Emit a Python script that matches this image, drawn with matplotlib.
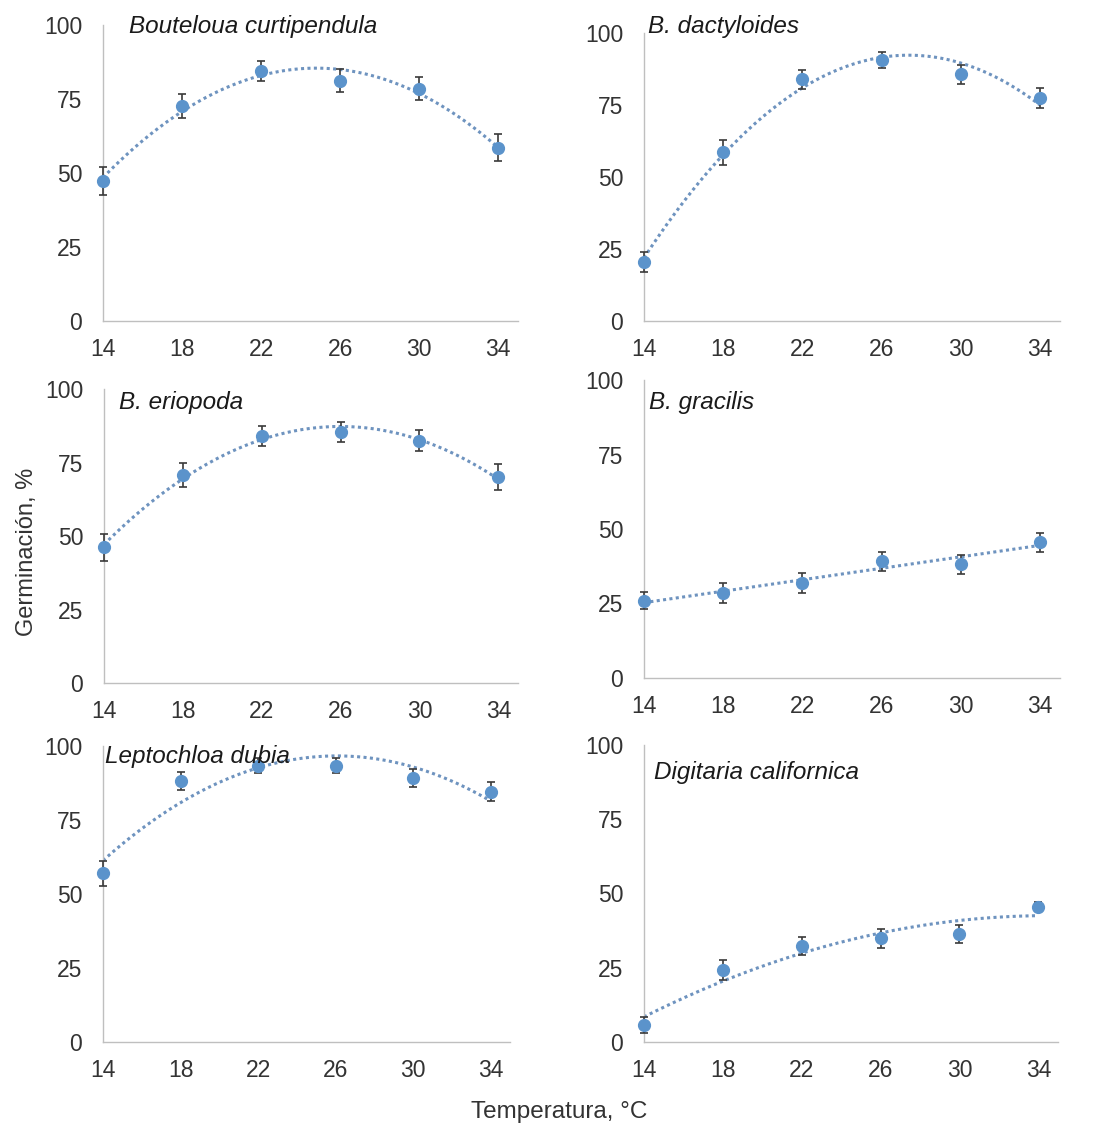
import numpy as np
import matplotlib
matplotlib.use("Agg")
import matplotlib.pyplot as plt

plt.rcParams['font.family'] = ['Liberation Sans', 'DejaVu Sans']

temps = [14, 18, 22, 26, 30, 34]
xticks = [14, 18, 22, 26, 30, 34]
yticks = [0, 25, 50, 75, 100]

species = ["Bouteloua curtipendula", "B. dactyloides", "B. eriopoda",
           "B. gracilis", "Leptochloa dubia", "Digitaria californica"]

curtipendula = [47.3, 72.6, 84.5, 81.1, 78.5, 58.6]
curtipendula_err = [4.7, 4.0, 3.5, 3.9, 3.8, 4.6]
dactyloides = [20.6, 58.6, 84.0, 90.6, 85.6, 77.3]
dactyloides_err = [3.5, 4.3, 3.3, 2.8, 3.2, 3.5]
eriopoda = [46.1, 70.8, 84.1, 85.3, 82.4, 70.0]
eriopoda_err = [4.6, 4.1, 3.4, 3.4, 3.5, 4.4]
gracilis = [25.9, 28.6, 31.9, 39.2, 38.2, 45.6]
gracilis_err = [2.9, 3.3, 3.3, 3.2, 3.2, 3.2]
dubia = [57.0, 88.2, 93.4, 93.4, 89.3, 84.5]
dubia_err = [4.3, 2.9, 2.5, 2.5, 3.0, 3.2]
californica = [5.7, 24.2, 32.3, 34.9, 36.3, 45.6]
californica_err = [2.8, 3.3, 3.1, 3.2, 3.1, 1.5]

series = [curtipendula, dactyloides, eriopoda, gracilis, dubia, californica]
errors = [curtipendula_err, dactyloides_err, eriopoda_err, gracilis_err, dubia_err, californica_err]
trend_degree = [2, 2, 2, 1, 2, 2]

W, H = 1096, 1131
fig = plt.figure(figsize=(W / 100, H / 100), dpi=100)

# panel boxes in pixels: left, right, top(y=100), bottom(y=0)
boxes = [(103, 518, 25, 321), (644, 1060, 33, 321),
         (104, 518, 389, 683), (644, 1060, 380, 678),
         (103, 510, 746, 1042), (644, 1058, 745, 1042)]
title_pos = [(129, 27), (648, 27), (119, 403), (649, 403), (105, 756), (654, 773)]

marker_c = "#5B93CB"
trend_c = "#6E93BF"
err_c = "#3A3A3A"
spine_c = "#BFBFBF"

for i, (l, r, t, b) in enumerate(boxes):
    ax = fig.add_axes([l / W, 1 - b / H, (r - l) / W, (b - t) / H])
    ax.set_xlim(14, 35)
    ax.set_ylim(0, 100)
    for s in ["top", "right"]:
        ax.spines[s].set_visible(False)
    for s in ["left", "bottom"]:
        ax.spines[s].set_color(spine_c)
        ax.spines[s].set_linewidth(1.0)
    ax.set_xticks(xticks)
    ax.set_yticks(yticks)
    ax.tick_params(axis='both', length=0, labelsize=16.5, labelcolor="#333333")
    ax.tick_params(axis='x', pad=12)
    ax.tick_params(axis='y', pad=15)
    y = np.array(series[i])
    x = np.array(temps)
    coef = np.polyfit(x, y, trend_degree[i])
    xs = np.linspace(14, 34, 200)
    ax.plot(xs, np.polyval(coef, xs), linestyle=(0, (1, 1.1)), color=trend_c,
            linewidth=2.2, zorder=2)
    ax.errorbar(x, y, yerr=errors[i], fmt='o', color=marker_c, markersize=8.5,
                ecolor=err_c, elinewidth=1.2, capsize=3, capthick=1.2, zorder=3,
                clip_on=False)
    tx, ty = title_pos[i]
    fig.text(tx / W, 1 - ty / H, species[i], fontsize=17.5, style='italic',
             color="#1a1a1a", ha='left', va='center')

fig.text(27 / W, 1 - 552 / H, "Germinación, %", rotation=90, fontsize=17,
         color="#333333", ha='center', va='center')
fig.text(559 / W, 1 - 1112 / H, "Temperatura, °C", fontsize=17.5,
         color="#333333", ha='center', va='center')

fig.savefig("out.png", dpi=100, facecolor="white")
